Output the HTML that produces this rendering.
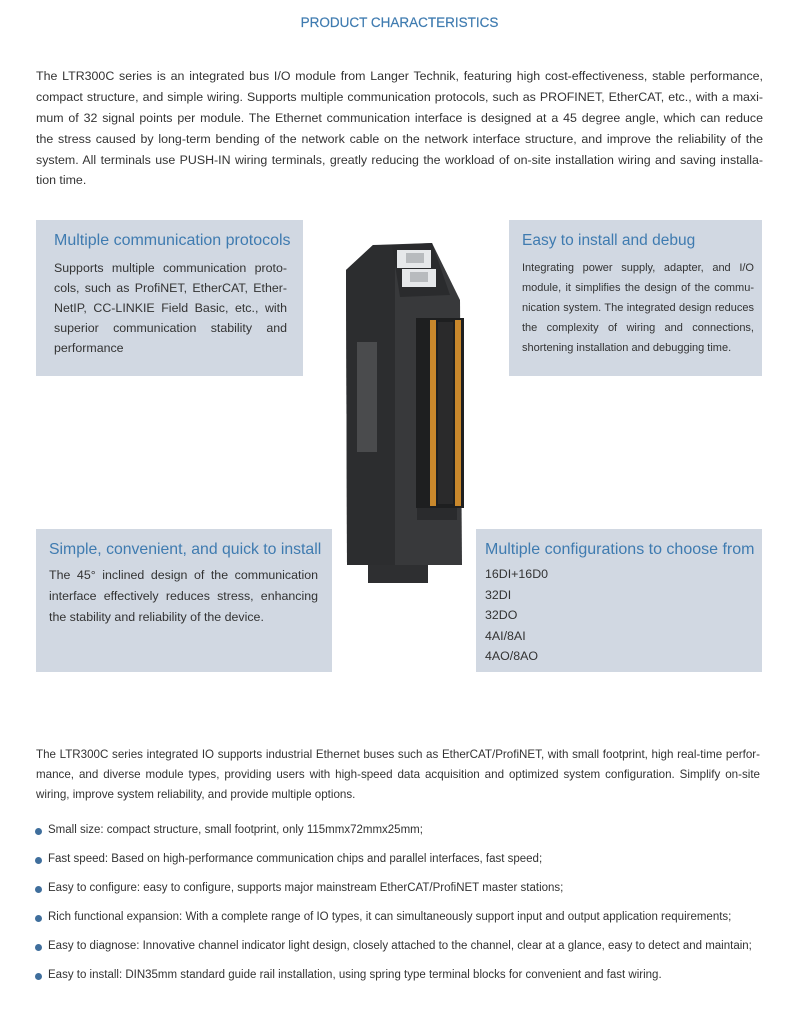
<!DOCTYPE html>
<html><head><meta charset="utf-8"><style>
body{margin:0;width:799px;height:1024px;background:#fff;position:relative;font-family:"Liberation Sans",sans-serif;color:#333;overflow:hidden}
.a{position:absolute;white-space:nowrap}
.j{text-align:justify;text-align-last:justify;white-space:nowrap}
.box{position:absolute;background:#d1d8e2}
.h{position:absolute;color:#3f7bb0;font-size:16px;white-space:nowrap}
.t{font-size:12.4px;line-height:21px}
.b{font-size:11.5px}
.dot{position:absolute;width:7px;height:7px;border-radius:50%;background:#3f6e9c;left:35px}
</style></head><body>
<div class="a" style="left:0;width:799px;text-align:center;top:15px;font-size:13.5px;color:#3f7bb0;-webkit-text-stroke:0.2px #3f7bb0">PRODUCT CHARACTERISTICS</div>

<div class="a t j" style="left:36px;width:727px;top:66px">The LTR300C series is an integrated bus I/O module from Langer Technik, featuring high cost-effectiveness, stable performance,</div>
<div class="a t j" style="left:36px;width:727px;top:87px">compact structure, and simple wiring. Supports multiple communication protocols, such as PROFINET, EtherCAT, etc., with a maxi-</div>
<div class="a t j" style="left:36px;width:727px;top:108px">mum of 32 signal points per module. The Ethernet communication interface is designed at a 45 degree angle, which can reduce</div>
<div class="a t j" style="left:36px;width:727px;top:129px">the stress caused by long-term bending of the network cable on the network interface structure, and improve the reliability of the</div>
<div class="a t j" style="left:36px;width:727px;top:150px">system. All terminals use PUSH-IN wiring terminals, greatly reducing the workload of on-site installation wiring and saving installa-</div>
<div class="a t" style="left:36px;top:170px">tion time.</div>

<div class="box" style="left:36px;top:220px;width:267px;height:156px"></div>
<div class="h" style="left:54px;top:232px">Multiple communication protocols</div>
<div class="a t j" style="left:54px;width:233px;top:258px;line-height:20px">Supports multiple communication proto-</div>
<div class="a t j" style="left:54px;width:233px;top:278px;line-height:20px">cols, such as ProfiNET, EtherCAT, Ether-</div>
<div class="a t j" style="left:54px;width:233px;top:298px;line-height:20px">NetIP, CC-LINKIE Field Basic, etc., with</div>
<div class="a t j" style="left:54px;width:233px;top:318px;line-height:20px">superior communication stability and</div>
<div class="a t" style="left:54px;top:338px;line-height:20px">performance</div>

<div class="box" style="left:509px;top:220px;width:253px;height:156px"></div>
<div class="h" style="left:522px;top:232px;font-size:15.5px">Easy to install and debug</div>
<div class="a j" style="left:522px;width:232px;top:258px;font-size:11px;line-height:20px">Integrating power supply, adapter, and I/O</div>
<div class="a j" style="left:522px;width:232px;top:278px;font-size:11px;line-height:20px">module, it simplifies the design of the commu-</div>
<div class="a j" style="left:522px;width:232px;top:298px;font-size:11px;line-height:20px">nication system. The integrated design reduces</div>
<div class="a j" style="left:522px;width:232px;top:318px;font-size:11px;line-height:20px">the complexity of wiring and connections,</div>
<div class="a" style="left:522px;top:338px;font-size:11px;line-height:20px">shortening installation and debugging time.</div>

<div class="box" style="left:36px;top:529px;width:296px;height:143px"></div>
<div class="h" style="left:49px;top:541px;font-size:15.8px">Simple, convenient, and quick to install</div>
<div class="a t j" style="left:49px;width:269px;top:565px;line-height:21px">The 45° inclined design of the communication</div>
<div class="a t j" style="left:49px;width:269px;top:586px;line-height:21px">interface effectively reduces stress, enhancing</div>
<div class="a t" style="left:49px;top:607px;line-height:21px">the stability and reliability of the device.</div>

<div class="box" style="left:476px;top:529px;width:286px;height:143px"></div>
<div class="h" style="left:485px;top:541px">Multiple configurations to choose from</div>
<div class="a t" style="left:485px;top:564px;line-height:20.5px">16DI+16D0<br>32DI<br>32DO<br>4AI/8AI<br>4AO/8AO</div>

<svg style="position:absolute;left:330px;top:230px" width="150" height="360" viewBox="330 230 150 360">
<rect x="368" y="545" width="60" height="38" fill="#2e2f31"/>
<polygon points="373,245 432,243 460,300 462,565 347,565 346,270" fill="#38393b"/>
<polygon points="346,270 373,245 395,245 395,565 347,565" fill="#2c2d2f"/>
<rect x="357" y="342" width="20" height="110" fill="#4a4b4d"/>
<polygon points="392,245 432,243 450,295 400,297" fill="#2a2b2d"/>
<rect x="397" y="250" width="34" height="18" fill="#e6e8ea"/>
<rect x="402" y="269" width="34" height="18" fill="#e6e8ea"/>
<rect x="406" y="253" width="18" height="10" fill="#b8bbbe"/>
<rect x="410" y="272" width="18" height="10" fill="#b8bbbe"/>
<rect x="416" y="318" width="48" height="190" fill="#1e1f20"/>
<rect x="430" y="320" width="6" height="186" fill="#c9882c"/>
<rect x="455" y="320" width="6" height="186" fill="#c9882c"/>
<rect x="438" y="322" width="15" height="182" fill="#2a2a2b"/>
<rect x="417" y="508" width="40" height="12" fill="#2a2b2d"/>
</svg>

<div class="a j" style="left:36px;width:724px;top:745px;font-size:11.6px;line-height:20px">The LTR300C series integrated IO supports industrial Ethernet buses such as EtherCAT/ProfiNET, with small footprint, high real-time perfor-</div>
<div class="a j" style="left:36px;width:724px;top:765px;font-size:11.6px;line-height:20px">mance, and diverse module types, providing users with high-speed data acquisition and optimized system configuration. Simplify on-site</div>
<div class="a" style="left:36px;top:785px;font-size:11.6px;line-height:20px">wiring, improve system reliability, and provide multiple options.</div>

<div class="dot" style="top:828px"></div><div class="a b" style="left:48px;top:824px">Small size: compact structure, small footprint, only 115mmx72mmx25mm;</div>
<div class="dot" style="top:857px"></div><div class="a b" style="left:48px;top:853px">Fast speed: Based on high-performance communication chips and parallel interfaces, fast speed;</div>
<div class="dot" style="top:886px"></div><div class="a b" style="left:48px;top:882px">Easy to configure: easy to configure, supports major mainstream EtherCAT/ProfiNET master stations;</div>
<div class="dot" style="top:915px"></div><div class="a b" style="left:48px;top:911px">Rich functional expansion: With a complete range of IO types, it can simultaneously support input and output application requirements;</div>
<div class="dot" style="top:944px"></div><div class="a b" style="left:48px;top:940px">Easy to diagnose: Innovative channel indicator light design, closely attached to the channel, clear at a glance, easy to detect and maintain;</div>
<div class="dot" style="top:973px"></div><div class="a b" style="left:48px;top:969px">Easy to install: DIN35mm standard guide rail installation, using spring type terminal blocks for convenient and fast wiring.</div>
</body></html>
